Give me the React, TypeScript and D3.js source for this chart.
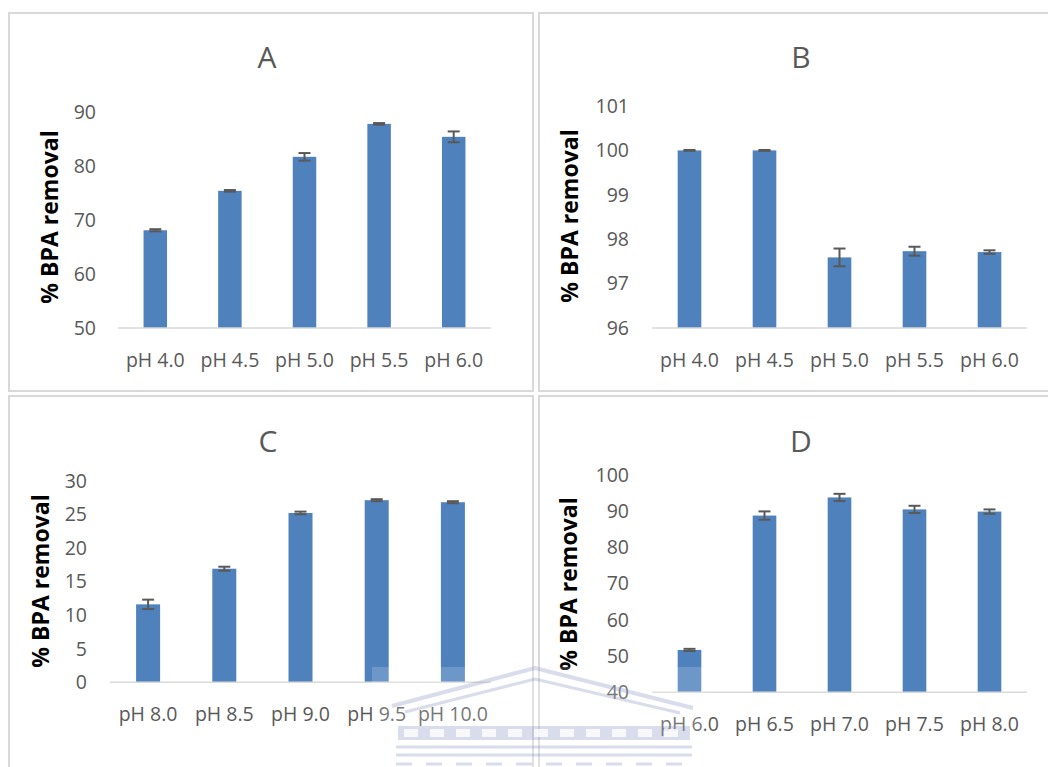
import React from "react";
import * as d3 from "d3";

// panel A
const phA = ["pH 4.0", "pH 4.5", "pH 5.0", "pH 5.5", "pH 6.0"];
const removalA = [68.1, 75.4, 81.7, 87.8, 85.4];
const errA = [0.2, 0.15, 0.7, 0.15, 1.0];
const ticksA = [50, 60, 70, 80, 90];

// panel B
const phB = ["pH 4.0", "pH 4.5", "pH 5.0", "pH 5.5", "pH 6.0"];
const removalB = [100, 100, 97.59, 97.73, 97.71];
const errB = [0.01, 0.01, 0.2, 0.1, 0.04];
const ticksB = [96, 97, 98, 99, 100, 101];

// panel C
const phC = ["pH 8.0", "pH 8.5", "pH 9.0", "pH 9.5", "pH 10.0"];
const removalC = [11.6, 16.9, 25.2, 27.1, 26.8];
const errC = [0.7, 0.3, 0.2, 0.15, 0.15];
const ticksC = [0, 5, 10, 15, 20, 25, 30];

// panel D
const phD = ["pH 6.0", "pH 6.5", "pH 7.0", "pH 7.5", "pH 8.0"];
const removalD = [51.7, 88.8, 93.8, 90.5, 89.9];
const errD = [0.3, 1.15, 1.0, 1.0, 0.6];
const ticksD = [40, 50, 60, 70, 80, 90, 100];

const FONT = "'Open Sans', sans-serif";
const GREY = "#595959";
const LINE = "#d9d9d9";
const BAR = "#4f81bd";

interface PanelProps {
  title: string;
  cats: string[];
  values: number[];
  errs: number[];
  ticks: number[];
  x0: number;
  x1: number;
  yBottom: number;
  yTop: number;
  labelX: number;
  axisTitleX: number;
  axisTitleY: number;
  titleX: number;
  titleY: number;
}

const Panel: React.FC<PanelProps> = (p) => {
  const x = d3
    .scaleBand()
    .domain(p.cats)
    .range([p.x0, p.x1])
    .paddingInner(0.685)
    .paddingOuter(0.3425);
  const y = d3
    .scaleLinear()
    .domain([p.ticks[0], p.ticks[p.ticks.length - 1]])
    .range([p.yBottom, p.yTop]);
  const bw = x.bandwidth();

  return (
    <g>
      <text x={p.titleX} y={p.titleY} textAnchor="middle" fontSize={30} fill={GREY} fontFamily={FONT}>
        {p.title}
      </text>
      {p.ticks.map((t) => (
        <text key={t} x={p.labelX} y={y(t)} dy="0.35em" textAnchor="end" fontSize={19.5} fill={GREY} fontFamily={FONT}>
          {t}
        </text>
      ))}
      <text
        transform={`translate(${p.axisTitleX},${p.axisTitleY}) rotate(-90)`}
        dy="0.36em"
        textAnchor="middle"
        fontSize={23}
        fontWeight="bold"
        fill="#000"
        fontFamily={FONT}
      >
        % BPA removal
      </text>
      {p.cats.map((c, i) => {
        const cx = x(c)! + bw / 2;
        const v = p.values[i];
        const e = p.errs[i];
        return (
          <g key={c}>
            <rect x={x(c)} y={y(v)} width={bw} height={y(p.ticks[0]) - y(v)} fill={BAR} />
            <line x1={cx} x2={cx} y1={y(v - e)} y2={y(v + e)} stroke={GREY} strokeWidth={2} />
            <line x1={cx - 6} x2={cx + 6} y1={y(v - e)} y2={y(v - e)} stroke={GREY} strokeWidth={2} />
            <line x1={cx - 6} x2={cx + 6} y1={y(v + e)} y2={y(v + e)} stroke={GREY} strokeWidth={2} />
            <text x={cx} y={p.yBottom + 39} textAnchor="middle" fontSize={19.5} fill={GREY} fontFamily={FONT}>
              {c}
            </text>
          </g>
        );
      })}
      <line x1={p.x0} x2={p.x1} y1={p.yBottom} y2={p.yBottom} stroke={LINE} strokeWidth={1.5} />
    </g>
  );
};

const Watermark: React.FC = () => {
  const c = "rgba(130,140,185,0.3)";
  const slots = d3.range(0, 11);
  return (
    <g>
      <rect x={372} y={667} width={333} height={100} fill="#ffffff" opacity={0.18} />
      <polyline points="392,706 535,668 693,708" fill="none" stroke={c} strokeWidth={4} />
      <polyline points="405,712 535,679 680,713" fill="none" stroke={c} strokeWidth={3} />
      <rect x={398} y={726} width={292} height={14} fill={c} />
      {slots.map((s) => (
        <rect key={s} x={404 + s * 26} y={729} width={14} height={8} fill="rgba(255,255,255,0.8)" />
      ))}
      <line x1={396} x2={692} y1={747} y2={747} stroke={c} strokeWidth={3} />
      <line x1={396} x2={692} y1={755} y2={755} stroke={c} strokeWidth={3} />
      <line x1={396} x2={692} y1={764} y2={764} stroke={c} strokeWidth={3} strokeDasharray="16,14" />
    </g>
  );
};

export default function App() {
  return (
    <svg
      width={1048}
      height={767}
      style={{ position: "absolute", left: 0, top: 0, background: "#fff" }}
    >
      <rect x={9} y={13} width={524} height={378} fill="none" stroke={LINE} strokeWidth={2} />
      <rect x={539} y={13} width={520} height={378} fill="none" stroke={LINE} strokeWidth={2} />
      <rect x={9} y={396} width={524} height={380} fill="none" stroke={LINE} strokeWidth={2} />
      <rect x={539} y={396} width={520} height={380} fill="none" stroke={LINE} strokeWidth={2} />

      <Panel title="A" cats={phA} values={removalA} errs={errA} ticks={ticksA}
        x0={118} x1={491} yBottom={328} yTop={112} labelX={96}
        axisTitleX={50} axisTitleY={217} titleX={267} titleY={68} />
      <Panel title="B" cats={phB} values={removalB} errs={errB} ticks={ticksB}
        x0={652} x1={1027} yBottom={328} yTop={106} labelX={629}
        axisTitleX={570} axisTitleY={216} titleX={801} titleY={68} />
      <Panel title="C" cats={phC} values={removalC} errs={errC} ticks={ticksC}
        x0={110} x1={491} yBottom={682.3} yTop={480.7} labelX={87}
        axisTitleX={41} axisTitleY={581} titleX={268} titleY={452} />
      <Panel title="D" cats={phD} values={removalD} errs={errD} ticks={ticksD}
        x0={652} x1={1027} yBottom={692.3} yTop={475} labelX={629}
        axisTitleX={569} axisTitleY={584} titleX={801} titleY={452} />

      <Watermark />
    </svg>
  );
}
